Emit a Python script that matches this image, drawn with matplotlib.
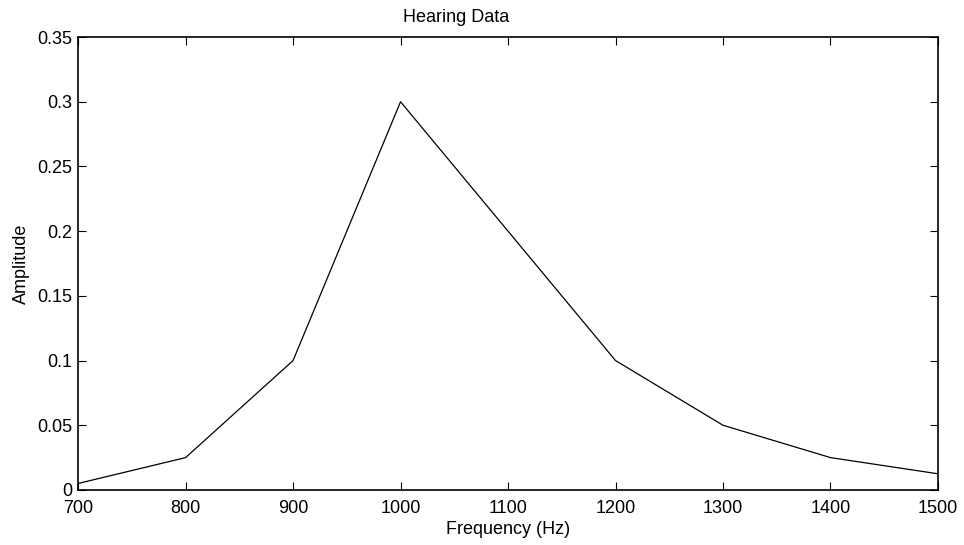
import matplotlib
matplotlib.use("Agg")
import matplotlib.pyplot as plt

plt.rcParams['font.family'] = ['Liberation Sans', 'DejaVu Sans']

frequency = [700, 800, 900, 1000, 1100, 1200, 1300, 1400, 1500]
amplitude = [0.005, 0.025, 0.1, 0.3, 0.2, 0.1, 0.05, 0.025, 0.0125]

x_ticks = [700, 800, 900, 1000, 1100, 1200, 1300, 1400, 1500]
y_ticks = [0, 0.05, 0.1, 0.15, 0.2, 0.25, 0.3, 0.35]
y_labels = ['0', '0.05', '0.1', '0.15', '0.2', '0.25', '0.3', '0.35']

fig = plt.figure(figsize=(9.64, 5.45), dpi=100)
ax = fig.add_axes([0.081, 0.101, 0.892, 0.831])

ax.plot(frequency, amplitude, color='black', linewidth=0.9)

ax.set_xlim(700, 1500)
ax.set_ylim(0, 0.35)
ax.set_xticks(x_ticks)
ax.set_yticks(y_ticks)
ax.set_yticklabels(y_labels)

ax.tick_params(direction='in', length=6, width=0.8, labelsize=13,
               top=True, right=True)
ax.tick_params(axis='x', pad=7)
ax.tick_params(axis='y', pad=4)
for s in ax.spines.values():
    s.set_linewidth(1.2)

# title sits a bit left of centre in the original
ax.set_title("Hearing Data", fontsize=13, pad=11, x=0.44)
ax.set_xlabel("Frequency (Hz)", fontsize=13, labelpad=3)
ax.set_ylabel("Amplitude", fontsize=13, labelpad=5)

fig.savefig("out.png", dpi=100)
